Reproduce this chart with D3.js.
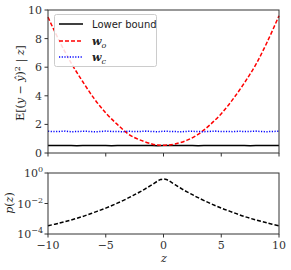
<!DOCTYPE html>
<html><head><meta charset="utf-8">
<script src="https://cdn.jsdelivr.net/npm/d3@7"></script>
<style>body{margin:0;background:#fff}svg{display:block}</style>
</head><body>
<script>
const zGrid = [-10,-9,-8,-7,-6,-5,-4,-3,-2,-1,-0.5,0,0.5,1,2,3,4,5,6,7,8,9,10];
const woMSE = [9.5,7.8,6.3,5.0,3.8,2.8,2.0,1.3,0.9,0.63,0.56,0.55,0.56,0.63,0.88,1.3,1.95,2.75,3.75,4.9,6.2,7.8,9.6];
const zDense = d3.range(-10,10.01,0.5);
const wcMSE = [1.52,1.50,1.51,1.53,1.49,1.50,1.52,1.51,1.48,1.50,1.53,1.51,1.50,1.49,1.52,1.50,1.51,1.53,1.50,1.49,1.52,1.51,1.50,1.48,1.51,1.52,1.50,1.49,1.51,1.53,1.50,1.51,1.49,1.52,1.50,1.51,1.53,1.50,1.49,1.51,1.52];
const lowerBound = [0.52,0.52,0.53,0.52,0.52,0.51,0.52,0.53,0.52,0.52,0.52,0.51,0.52,0.53,0.52,0.52,0.52,0.53,0.52,0.51,0.52,0.52,0.53,0.52,0.52,0.52,0.51,0.52,0.53,0.52,0.52,0.52,0.53,0.52,0.52,0.51,0.52,0.53,0.52,0.52,0.52];
const zP = [-10,-9,-8,-7,-6,-5,-4,-3,-2.5,-2,-1.5,-1,-0.5,-0.25,0,0.25,0.5,1,1.5,2,2.5,3,4,5,6,7,8,9,10];
const pZ = [0.000347,0.000525,0.000832,0.00141,0.00263,0.00501,0.0105,0.024,0.038,0.06,0.1,0.17,0.3,0.37,0.40,0.37,0.3,0.17,0.1,0.06,0.038,0.024,0.0105,0.00501,0.00263,0.00141,0.000832,0.000525,0.000347];
const xTicks = [-10,-5,0,5,10];
const yTopTicks = [0,2,4,6,8,10];
const yBotTicks = [0,-2,-4];

const W=291,H=270;
const svg=d3.select("body").append("svg").attr("width",W).attr("height",H);
const x=d3.scaleLinear().domain([-10,10]).range([48,279]);
const yT=d3.scaleLinear().domain([0,10]).range([153,10]);
const yB=d3.scaleLog().domain([1e-4,1]).range([234,173]);
const serif="'DejaVu Serif', serif";

function frame(y0,y1){
  svg.append("rect").attr("x",48).attr("y",y0).attr("width",231).attr("height",y1-y0)
   .attr("fill","none").attr("stroke","#333").attr("stroke-width",1);
}

// top panel lines
const lineT=d3.line().x(d=>x(d[0])).y(d=>yT(d[1]));
svg.append("path").attr("d",lineT(zDense.map((z,i)=>[z,lowerBound[i]])))
  .attr("fill","none").attr("stroke","#000").attr("stroke-width",1.5);
svg.append("path").attr("d",d3.line().curve(d3.curveCatmullRom).x(d=>x(d[0])).y(d=>yT(d[1]))(zGrid.map((z,i)=>[z,woMSE[i]])))
  .attr("fill","none").attr("stroke","#ff0000").attr("stroke-width",1.5).attr("stroke-dasharray","4,2");
svg.append("path").attr("d",lineT(zDense.map((z,i)=>[z,wcMSE[i]])))
  .attr("fill","none").attr("stroke","#0000ff").attr("stroke-width",1.5).attr("stroke-dasharray","1.2,1.5");
frame(10,153);

// top y axis
const gTy=svg.append("g");
yTopTicks.forEach(t=>{
  gTy.append("line").attr("x1",44.5).attr("x2",48).attr("y1",yT(t)).attr("y2",yT(t)).attr("stroke","#333");
  gTy.append("text").attr("x",42).attr("y",yT(t)+4).attr("text-anchor","end")
    .attr("font-family",serif).attr("font-size",11).attr("fill","#333").text(t);
});
xTicks.forEach(t=>{
  svg.append("line").attr("x1",x(t)).attr("x2",x(t)).attr("y1",153).attr("y2",156.5).attr("stroke","#333");
});

// legend
const lg=svg.append("g");
lg.append("rect").attr("x",54.5).attr("y",14.5).attr("width",102).attr("height",52).attr("rx",2)
  .attr("fill","#fff").attr("fill-opacity",0.85).attr("stroke","#ccc");
const rows=[{y:24,c:"#000",d:null},{y:41,c:"#ff0000",d:"4,2"},{y:57,c:"#0000ff",d:"1.2,1.5"}];
rows.forEach(r=>{
  const l=lg.append("line").attr("x1",59).attr("x2",83).attr("y1",r.y).attr("y2",r.y)
    .attr("stroke",r.c).attr("stroke-width",1.5);
  if(r.d) l.attr("stroke-dasharray",r.d);
});
lg.append("text").attr("x",92).attr("y",28).attr("font-family","'DejaVu Sans',sans-serif").attr("font-size",10).attr("fill","#222").text("Lower bound");
[["o",45],["c",61]].forEach(([s,yy])=>{
  const t=lg.append("text").attr("x",92).attr("y",yy).attr("font-family",serif).attr("font-size",11).attr("fill","#222");
  t.append("tspan").attr("font-style","italic").attr("font-weight","bold").text("w");
  t.append("tspan").attr("font-style","italic").attr("font-size",8).attr("dy",2.5).text(s);
});

// top y label
const yl=svg.append("text").attr("transform","translate(24,83) rotate(-90)").attr("text-anchor","middle")
  .attr("font-family",serif).attr("font-size",11).attr("fill","#222");
yl.append("tspan").text("E");
yl.append("tspan").text("[(");
yl.append("tspan").attr("font-style","italic").text("y");
yl.append("tspan").text(" − ");
yl.append("tspan").attr("font-style","italic").text("ŷ");
yl.append("tspan").text(")");
yl.append("tspan").attr("font-size",8).attr("dy",-4).text("2");
yl.append("tspan").attr("dy",4).text(" | ");
yl.append("tspan").attr("font-style","italic").text("z");
yl.append("tspan").text("]");

// bottom panel
svg.append("path").attr("d",d3.line().curve(d3.curveCatmullRom).x(d=>x(d[0])).y(d=>yB(d[1]))(zP.map((z,i)=>[z,pZ[i]])))
  .attr("fill","none").attr("stroke","#000").attr("stroke-width",1.5).attr("stroke-dasharray","4,2");
frame(173,234);
yBotTicks.forEach(e=>{
  const yy=yB(Math.pow(10,e));
  svg.append("line").attr("x1",44.5).attr("x2",48).attr("y1",yy).attr("y2",yy).attr("stroke","#333");
  const t=svg.append("text").attr("x",43).attr("y",yy+4).attr("text-anchor","end")
    .attr("font-family",serif).attr("font-size",11).attr("fill","#333");
  t.append("tspan").text("10");
  t.append("tspan").attr("font-size",8).attr("dy",-5).text(e===0?"0":"−"+(-e));
});
xTicks.forEach(t=>{
  svg.append("line").attr("x1",x(t)).attr("x2",x(t)).attr("y1",234).attr("y2",237.5).attr("stroke","#333");
  svg.append("text").attr("x",x(t)).attr("y",249).attr("text-anchor","middle")
    .attr("font-family",serif).attr("font-size",11).attr("fill","#333").text(t<0?"−"+(-t):t);
});
const pl=svg.append("text").attr("transform","translate(13,203) rotate(-90)").attr("text-anchor","middle")
  .attr("font-family",serif).attr("font-size",11).attr("fill","#222");
pl.append("tspan").attr("font-style","italic").text("p");
pl.append("tspan").text("(");
pl.append("tspan").attr("font-style","italic").text("z");
pl.append("tspan").text(")");
svg.append("text").attr("x",164).attr("y",262).attr("text-anchor","middle").attr("font-family",serif)
  .attr("font-style","italic").attr("font-size",11).attr("fill","#222").text("z");
</script>
</body></html>
